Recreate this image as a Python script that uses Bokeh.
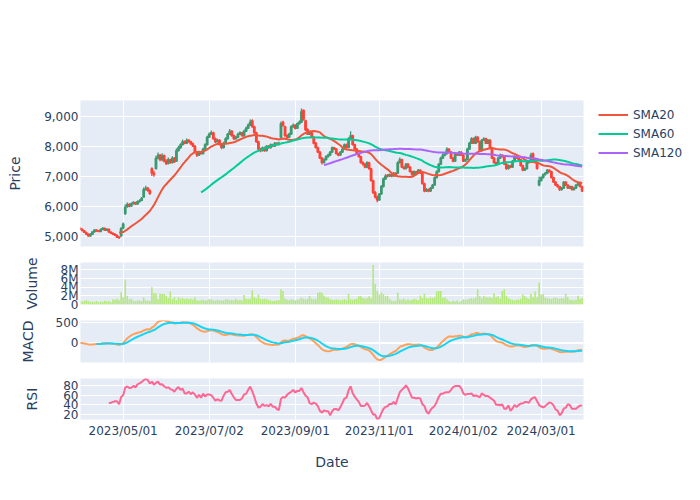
import numpy as np
import pandas as pd
from bokeh.plotting import figure
from bokeh.models import (Range1d, FixedTicker, NumeralTickFormatter, Legend, LegendItem,
                          CustomJSTickFormatter, Span)
from bokeh.layouts import column
from bokeh.embed import file_html
from bokeh.resources import INLINE

# ---------------- data ----------------
START_DATE = "2023-03-31"
END_DATE = "2024-04-01"
HOLIDAYS = ["2023-05-03", "2023-05-04", "2023-05-05", "2023-07-17", "2023-08-11",
            "2023-09-18", "2023-10-09", "2023-11-03", "2023-11-23", "2024-01-01",
            "2024-01-02", "2024-01-03", "2024-01-08", "2024-02-12", "2024-02-23",
            "2024-03-20"]
TICK_DATES = ["2023/05/01", "2023/07/02", "2023/09/01", "2023/11/01", "2024/01/02", "2024/03/01"]

OPEN = [5260,5230,5180,5120,5060,5000,5060,5140,5200,5170,
        5150,5220,5260,5190,5230,5130,5090,5060,5020,4960,
        5000,5270,5750,5980,6050,6000,6080,6120,6070,6150,
        6190,6300,6550,6600,6520,7250,7100,7250,7600,7700,
        7550,7680,7500,7420,7550,7450,7600,7500,7850,7950,
        8050,8150,8100,8200,8150,8080,8000,7800,7700,7800,
        7750,7900,8050,8300,8400,8450,8250,8150,8200,8050,
        7950,8100,8250,8400,8500,8350,8250,8300,8400,8450,
        8350,8500,8600,8700,8850,8650,8450,8150,7900,7850,
        7950,7850,8000,7950,8050,8000,8100,8050,8300,8800,
        8650,8350,8300,8400,8650,8700,8600,8750,8800,9200,
        8850,8550,8400,8450,8300,8100,7950,7800,7600,7450,
        7550,7650,7700,7800,7950,7900,7750,7700,7800,7900,
        8050,7950,8250,8350,8050,7900,7750,7650,7450,7400,
        7300,7450,7250,6850,6450,6300,6200,6400,6650,6900,
        7030,7000,7050,7000,7100,7100,7450,7550,7300,7250,
        7400,7300,7150,7050,7150,7100,7200,7100,6750,6500,
        6550,6500,6600,6700,6950,7150,7400,7600,7700,7750,
        7900,7800,7600,7500,7750,7700,7800,7700,7500,7550,
        7900,8100,8250,8100,8300,8150,7850,8200,8250,8100,
        8200,7950,7600,7450,7400,7600,7700,7650,7400,7250,
        7350,7300,7500,7650,7600,7550,7350,7200,7250,7450,
        7500,7750,7550,7450,6700,6850,6950,7050,7100,7200,
        7150,6950,6800,6700,6650,6550,6600,6800,6700,6600,
        6650,6550,6600,6700,6750,6650]
HIGH = [5290,5250,5200,5140,5080,5090,5160,5230,5220,5190,
        5240,5290,5270,5250,5240,5150,5110,5080,5040,4990,
        5290,5450,6050,6120,6090,6120,6160,6140,6190,6230,
        6300,6620,6680,6640,6550,7300,7180,7680,7790,7740,
        7760,7720,7560,7620,7580,7660,7640,7920,8010,8100,
        8220,8190,8260,8230,8180,8120,8030,7840,7850,7840,
        7950,8100,8350,8460,8520,8480,8290,8250,8230,8080,
        8150,8300,8440,8570,8530,8390,8340,8450,8500,8470,
        8550,8650,8760,8890,8900,8680,8480,8180,7950,7990,
        7990,8040,8040,8090,8080,8140,8130,8150,8820,8850,
        8680,8400,8450,8700,8760,8730,8790,8860,9260,9220,
        8880,8600,8490,8480,8330,8140,7980,7840,7640,7600,
        7700,7750,7840,7990,7980,7930,7780,7840,7940,8090,
        8090,8300,8500,8380,8080,7940,7790,7680,7500,7440,
        7500,7480,7280,6880,6500,6350,6440,6700,6950,7060,
        7070,7090,7080,7140,7120,7500,7620,7580,7330,7440,
        7440,7330,7180,7190,7170,7240,7230,7130,6780,6600,
        6590,6640,6740,6990,7200,7440,7650,7760,7800,7960,
        7930,7830,7630,7790,7780,7840,7830,7730,7590,7950,
        8150,8300,8290,8350,8330,8180,8240,8300,8280,8240,
        8230,7980,7640,7480,7640,7750,7730,7680,7430,7390,
        7380,7540,7700,7680,7630,7580,7380,7290,7490,7550,
        7780,7790,7580,7480,6990,6990,7090,7140,7240,7230,
        7180,6980,6830,6740,6680,6640,6840,6830,6730,6690,
        6680,6640,6740,6800,6780,6680]
LOW = [5200,5160,5100,5040,4980,4980,5040,5120,5150,5130,
       5130,5200,5170,5170,5110,5070,5040,5000,4940,4910,
       4980,5230,5700,5940,5960,5970,6050,6040,6050,6120,
       6160,6280,6520,6480,6380,7000,6980,7220,7560,7500,
       7500,7460,7370,7400,7410,7420,7440,7480,7820,7910,
       8020,8060,8080,8120,8040,7970,7780,7640,7670,7720,
       7720,7870,8020,8270,8370,8220,8110,8120,8020,7900,
       7920,8070,8220,8370,8320,8210,8220,8270,8370,8320,
       8320,8470,8570,8670,8620,8420,8120,7860,7800,7820,
       7810,7820,7910,7920,7970,7970,8020,8020,8280,8650,
       8320,8260,8280,8380,8620,8560,8580,8720,8780,8850,
       8500,8370,8370,8270,8060,7920,7770,7570,7390,7420,
       7520,7610,7670,7770,7870,7720,7660,7680,7770,7880,
       7920,7930,8220,8020,7870,7720,7620,7420,7350,7260,
       7270,7210,6820,6400,6250,6130,6180,6380,6620,6870,
       6950,6970,6960,6980,7020,7080,7420,7270,7220,7220,
       7270,7120,7010,7030,7070,7080,7070,6720,6460,6470,
       6460,6470,6570,6680,6920,7120,7370,7570,7660,7720,
       7770,7570,7460,7480,7670,7670,7670,7470,7470,7530,
       7880,8070,8070,8070,8120,7820,7830,8170,8070,8070,
       7920,7570,7420,7350,7380,7570,7620,7370,7210,7220,
       7260,7270,7470,7570,7520,7320,7160,7170,7220,7420,
       7470,7520,7420,7220,6660,6820,6920,7020,7070,7120,
       6920,6770,6670,6610,6500,6520,6570,6670,6570,6570,
       6520,6520,6570,6670,6620,6470]
CLOSE = [5230,5180,5120,5060,5000,5060,5140,5200,5170,5150,
         5220,5260,5190,5230,5130,5090,5060,5020,4960,4940,
         5250,5400,5950,6050,6000,6080,6120,6070,6150,6180,
         6260,6550,6600,6520,6420,7100,7050,7600,7700,7550,
         7680,7500,7420,7550,7450,7600,7480,7850,7950,8050,
         8150,8100,8200,8150,8080,8000,7800,7700,7800,7750,
         7900,8050,8300,8400,8450,8250,8150,8200,8050,7950,
         8100,8250,8400,8500,8350,8250,8300,8400,8450,8350,
         8500,8600,8700,8800,8650,8450,8150,7900,7850,7950,
         7850,8000,7950,8050,8000,8100,8050,8100,8750,8700,
         8350,8300,8400,8650,8700,8600,8750,8800,9150,8900,
         8550,8400,8450,8300,8100,7950,7800,7600,7450,7550,
         7650,7700,7800,7950,7900,7750,7700,7800,7900,8050,
         7950,8250,8350,8050,7900,7750,7650,7450,7400,7300,
         7450,7250,6850,6450,6300,6200,6400,6650,6900,7000,
         7000,7050,7000,7100,7050,7450,7550,7300,7250,7400,
         7300,7150,7050,7150,7100,7200,7100,6750,6500,6550,
         6500,6600,6700,6950,7150,7400,7600,7700,7750,7900,
         7800,7600,7500,7750,7700,7800,7700,7500,7550,7900,
         8100,8250,8100,8300,8150,7850,8200,8250,8100,8200,
         7950,7600,7450,7400,7600,7700,7650,7400,7250,7350,
         7300,7500,7650,7600,7550,7350,7200,7250,7450,7500,
         7700,7550,7450,7250,6850,6950,7050,7100,7200,7150,
         6950,6800,6700,6650,6550,6600,6800,6700,6600,6650,
         6550,6600,6700,6750,6650,6500]
VOLUME_M = [0.9,0.7,0.8,1.0,0.8,0.6,0.7,0.6,0.8,0.5,
            0.7,0.6,0.9,0.7,0.8,0.5,1.2,1.1,1.3,1.0,
            2.8,1.7,5.8,2.0,1.2,1.3,0.9,0.8,1.0,0.9,
            0.8,1.6,1.0,0.9,0.8,4.0,2.6,2.6,1.2,2.5,
            2.5,2.4,2.0,1.5,3.0,1.2,1.7,1.0,1.7,1.3,
            1.5,1.2,1.4,1.2,1.3,1.1,1.7,1.0,0.9,1.0,
            1.1,0.9,1.0,1.2,1.2,1.0,0.9,1.1,1.0,0.9,
            1.0,1.2,1.2,1.0,1.1,0.9,1.3,1.0,1.1,0.9,
            2.2,1.3,1.2,1.3,3.3,1.7,1.4,2.3,1.3,1.2,
            1.3,1.2,1.1,0.9,0.8,0.9,0.9,1.0,3.5,3.1,
            1.3,1.1,1.0,1.2,1.1,1.0,1.1,1.2,1.6,1.3,
            1.2,1.3,2.0,1.3,1.2,1.3,2.7,2.9,2.7,2.1,
            1.6,1.6,1.2,1.1,1.0,1.2,1.1,1.0,1.1,1.2,
            1.0,2.5,1.2,1.1,1.2,1.3,1.9,1.9,1.5,1.4,
            1.5,1.9,1.5,9.1,4.8,3.1,2.3,2.8,2.4,1.9,
            2.0,1.3,0.9,0.8,0.9,2.8,1.2,1.1,1.3,1.0,
            1.2,1.0,1.1,1.3,1.2,1.0,2.1,1.5,2.5,1.5,
            1.4,1.6,1.5,1.7,3.0,3.1,3.1,1.5,1.7,1.2,
            0.8,0.6,0.9,0.7,1.0,0.6,0.8,1.2,1.1,1.2,
            1.3,1.5,1.4,1.6,3.5,1.9,1.5,2.0,1.7,1.6,
            1.7,1.5,2.6,1.7,1.9,1.4,3.1,3.5,2.0,1.5,
            1.2,1.1,1.0,1.1,1.1,1.3,2.3,1.9,1.5,1.3,
            2.5,1.7,3.0,1.7,5.1,2.3,2.4,1.6,1.5,1.4,
            1.3,1.5,1.6,1.4,1.3,1.5,1.4,2.5,1.7,1.1,
            1.1,1.0,1.1,2.0,1.3,1.5]

# ---------------- derived ----------------
days = pd.bdate_range(START_DATE, END_DATE)
days = days[~days.isin(pd.to_datetime(HOLIDAYS))]
n = len(CLOSE)
assert len(days) == n == len(OPEN) == len(HIGH) == len(LOW) == len(VOLUME_M)
x = np.arange(n)
tick_pos = [int(days.searchsorted(pd.Timestamp(d.replace("/", "-")))) for d in TICK_DATES]

o = np.array(OPEN, float); h = np.array(HIGH, float)
l = np.array(LOW, float); c = np.array(CLOSE, float)
vol = np.array(VOLUME_M) * 1e6
cs = pd.Series(c)
sma20 = cs.rolling(20).mean().values
sma60 = cs.rolling(60).mean().values
sma120 = cs.rolling(120).mean().values
macd = (cs.ewm(span=12, adjust=False).mean() - cs.ewm(span=26, adjust=False).mean())
signal = macd.ewm(span=9, adjust=False).mean().values.copy()
signal[:8] = np.nan
macd = macd.values
d = cs.diff()
gain = d.clip(lower=0).rolling(14).mean()
loss = (-d.clip(upper=0)).rolling(14).mean()
rsi = (100 - 100 / (1 + gain / loss)).values

INC, DEC = "#3D9970", "#FF4136"
up = c > o
col = np.where(up, INC, DEC)
FONT = "DejaVu Sans"
TXT = "#2a3f5f"

xr = Range1d(0.17, 245.65)


def make_fig(frame_h, yr, top, bottom):
    p = figure(frame_width=503, frame_height=frame_h, x_range=xr, y_range=yr,
               output_backend="svg", toolbar_location=None, title=None,
               min_border_left=80, min_border_right=109, min_border_top=top,
               min_border_bottom=bottom, background_fill_color="#E5ECF6",
               border_fill_color="white", outline_line_color=None)
    for ax in (p.xaxis[0], p.yaxis[0]):
        ax.axis_line_color = None
        ax.major_tick_line_color = None
        ax.minor_tick_line_color = None
        ax.major_tick_out = 0
        ax.major_tick_in = 0
        ax.major_label_text_font = FONT
        ax.major_label_text_font_size = "12px"
        ax.major_label_text_color = TXT
        ax.axis_label_text_font = FONT
        ax.axis_label_text_font_size = "14px"
        ax.axis_label_text_font_style = "normal"
        ax.axis_label_text_color = TXT
    p.yaxis.major_label_standoff = 2
    p.xaxis.ticker = FixedTicker(ticks=tick_pos)
    p.xgrid.ticker = FixedTicker(ticks=tick_pos)
    p.xaxis.major_label_overrides = {tp: lab for tp, lab in zip(tick_pos, TICK_DATES)}
    p.xgrid.grid_line_color = "white"
    p.ygrid.grid_line_color = "white"
    p.xgrid.grid_line_width = 1
    p.ygrid.grid_line_width = 1
    return p


# Price
p1 = make_fig(146, Range1d(4650, 9525), 100, 8)
p1.xaxis.visible = False
p1.yaxis.ticker = FixedTicker(ticks=[5000, 6000, 7000, 8000, 9000])
p1.yaxis.formatter = NumeralTickFormatter(format="0,0")
p1.yaxis.axis_label = "Price"
p1.yaxis.axis_label_standoff = 18
p1.segment(x, h, x, l, color=col, line_width=1.3)
p1.vbar(x=x, width=0.7, top=np.maximum(o, c), bottom=np.minimum(o, c),
        fill_color=col, fill_alpha=0.5, line_color=col, line_width=1.4)
r20 = p1.line(x, sma20, color="#EF553B", line_width=2)
r60 = p1.line(x, sma60, color="#00CC96", line_width=2)
r120 = p1.line(x, sma120, color="#AB63FA", line_width=2)
legend = Legend(items=[LegendItem(label="SMA20", renderers=[r20]),
                       LegendItem(label="SMA60", renderers=[r60]),
                       LegendItem(label="SMA120", renderers=[r120])],
                location=(15, 84), orientation="vertical", border_line_color=None,
                background_fill_alpha=0, padding=0, margin=0, spacing=0,
                glyph_width=30, glyph_height=19, label_height=19, label_standoff=5,
                label_text_font=FONT, label_text_font_size="12px",
                label_text_color=TXT)
p1.add_layout(legend, "right")

# Volume
p2 = make_fig(42, Range1d(0, 9.7e6), 8, 8)
p2.xaxis.visible = False
p2.yaxis.ticker = FixedTicker(ticks=[0, 2e6, 4e6, 6e6, 8e6])
p2.yaxis.formatter = CustomJSTickFormatter(code="return tick == 0 ? '0' : (tick/1e6) + 'M';")
p2.yaxis.axis_label = "Volume"
p2.yaxis.axis_label_standoff = 18
p2.vbar(x=x, width=0.8, top=vol, bottom=0, fill_color="#B6E880", line_color=None)

# MACD
p3 = make_fig(42, Range1d(-485, 557), 8, 8)
p3.xaxis.visible = False
p3.yaxis.ticker = FixedTicker(ticks=[-500, 0, 500])
p3.yaxis.axis_label = "MACD"
p3.yaxis.axis_label_standoff = 17
p3.add_layout(Span(location=0, dimension="width", line_color="white", line_width=2,
                   level="underlay"))
p3.line(x, macd, color="#FFA15A", line_width=2)
p3.line(x, signal, color="#19D3F3", line_width=2)

# RSI
p4 = make_fig(41, Range1d(10, 94), 8, 65)
p4.yaxis.ticker = FixedTicker(ticks=[20, 40, 60, 80])
p4.yaxis.axis_label = "RSI"
p4.yaxis.axis_label_standoff = 20
p4.xaxis.axis_label = "Date"
p4.xaxis.major_label_standoff = 4
p4.xaxis.axis_label_standoff = 13
p4.line(x, rsi, color="#FF6692", line_width=2)

layout = column(p1, p2, p3, p4, spacing=0)
open("out.html", "w").write(file_html(layout, INLINE))
